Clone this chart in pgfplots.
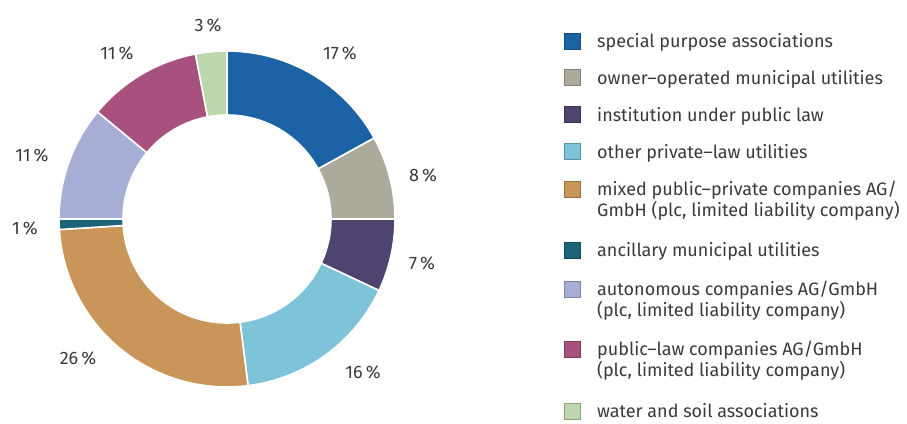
\documentclass[border=0pt]{standalone}
\usepackage{pgfplots}
\usepackage{pgfplotstable}
\pgfplotsset{compat=1.18}
\usepackage{fontspec}
\setmainfont{Fira Sans}
\definecolor{cA}{HTML}{1C63A6}
\definecolor{cB}{HTML}{ACAA9A}
\definecolor{cC}{HTML}{4F4470}
\definecolor{cD}{HTML}{7EC4D8}
\definecolor{cE}{HTML}{C99558}
\definecolor{cF}{HTML}{1D6478}
\definecolor{cG}{HTML}{A7AED5}
\definecolor{cH}{HTML}{A8507E}
\definecolor{cI}{HTML}{BCD6AE}
\definecolor{txt}{HTML}{3A3A3A}
\pgfplotstableread{
v col
17 cA
8 cB
7 cC
16 cD
26 cE
1 cF
11 cG
11 cH
3 cI
}\piedata
\begin{document}
\begin{tikzpicture}
\begin{axis}[x=1bp,y=1bp,xmin=0,xmax=907,ymin=0,ymax=423,hide axis,scale only axis,clip=false]
\addplot[draw=none] coordinates {(0,0) (907,423)};
\path (axis cs:0,0) rectangle (axis cs:907,423);
\def\cum{0}
\pgfplotsforeachungrouped \i in {0,...,8}{%
  \pgfplotstablegetelem{\i}{v}\of\piedata \let\val\pgfplotsretval
  \pgfplotstablegetelem{\i}{col}\of\piedata \let\col\pgfplotsretval
  \pgfmathsetmacro\aS{90-3.6*\cum}%
  \pgfmathsetmacro\aE{90-3.6*(\cum+\val)}%
  \pgfmathsetmacro\cum{\cum+\val}%
  \pgfmathsetmacro\xa{227+168*cos(\aS)}%
  \pgfmathsetmacro\ya{204+168*sin(\aS)}%
  \pgfmathsetmacro\xb{227+104*cos(\aE)}%
  \pgfmathsetmacro\yb{204+104*sin(\aE)}%
  \edef\temp{\noexpand\fill[\col, draw=white, line width=1.6bp, line join=round] (axis cs:\xa,\ya) arc[start angle=\aS, end angle=\aE, radius=168bp] -- (axis cs:\xb,\yb) arc[start angle=\aE, end angle=\aS, radius=104bp] -- cycle;}%
  \temp
}
\tikzset{lab/.style={text=txt,font=\fontsize{18bp}{21bp}\selectfont,inner sep=0pt}}
\node[lab] at (axis cs:340,370) {17\,\%};
\node[lab] at (axis cs:423,248) {8\,\%};
\node[lab] at (axis cs:422,160) {7\,\%};
\node[lab] at (axis cs:363,51) {16\,\%};
\node[lab] at (axis cs:78,65) {26\,\%};
\node[lab] at (axis cs:25,195) {1\,\%};
\node[lab] at (axis cs:32,268) {11\,\%};
\node[lab] at (axis cs:117,370) {11\,\%};
\node[lab] at (axis cs:208,398) {3\,\%};
% legend squares
\tikzset{sq/.style={fill=#1, draw=#1!75!black, line width=0.6bp}}
\path[sq=cA] (axis cs:564.5,374) rectangle (axis cs:580.5,390);
\path[sq=cB] (axis cs:564.5,337.5) rectangle (axis cs:580.5,353.5);
\path[sq=cC] (axis cs:564.5,300.5) rectangle (axis cs:580.5,316.5);
\path[sq=cD] (axis cs:564.5,263.5) rectangle (axis cs:580.5,279.5);
\path[sq=cE] (axis cs:564.5,226) rectangle (axis cs:580.5,242);
\path[sq=cF] (axis cs:564.5,165) rectangle (axis cs:580.5,181);
\path[sq=cG] (axis cs:564.5,126) rectangle (axis cs:580.5,142);
\path[sq=cH] (axis cs:564.5,66) rectangle (axis cs:580.5,82);
\path[sq=cI] (axis cs:564.5,4) rectangle (axis cs:580.5,20);
\tikzset{leg/.style={text=txt,font=\fontsize{18bp}{21bp}\selectfont,inner sep=0pt,anchor=base west}}
\node[leg] at (axis cs:597,375.5) {special purpose associations};
\node[leg] at (axis cs:597,339) {owner–operated municipal utilities};
\node[leg] at (axis cs:597,302) {institution under public law};
\node[leg] at (axis cs:597,265) {other private–law utilities};
\node[leg] at (axis cs:597,227.5) {mixed public–private companies AG/};
\node[leg] at (axis cs:597,206.5) {GmbH (plc, limited liability company)};
\node[leg] at (axis cs:597,166.5) {ancillary municipal utilities};
\node[leg] at (axis cs:597,127.5) {autonomous companies AG/GmbH};
\node[leg] at (axis cs:597,106.5) {(plc, limited liability company)};
\node[leg] at (axis cs:597,67.5) {public–law companies AG/GmbH};
\node[leg] at (axis cs:597,46.5) {(plc, limited liability company)};
\node[leg] at (axis cs:597,5.5) {water and soil associations};
\end{axis}
\end{tikzpicture}
\end{document}
